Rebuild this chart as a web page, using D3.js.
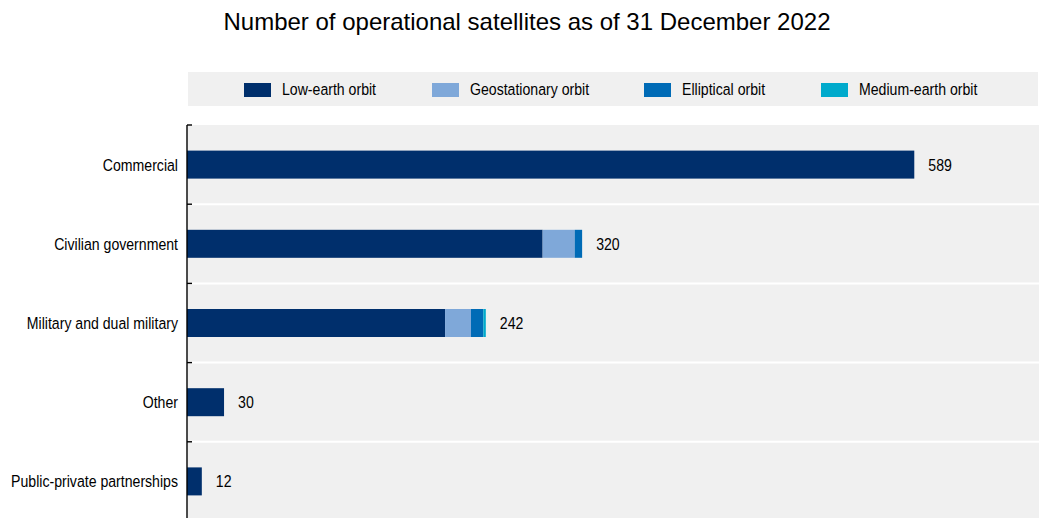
<!DOCTYPE html>
<html>
<head>
<meta charset="utf-8">
<script src="https://cdn.jsdelivr.net/npm/d3@7"></script>
<style>
  html, body { margin: 0; padding: 0; background: #fff; }
  svg { display: block; }
  text { font-family: "Liberation Sans", Arial, sans-serif; fill: #000; }
</style>
</head>
<body>
<svg id="chart" width="1039" height="518"></svg>
<script>
// Operational satellites by sector and orbit type, 31 December 2022
const categories = ["Commercial", "Civilian government", "Military and dual military", "Other", "Public-private partnerships"];
const seriesNames = ["Low-earth orbit", "Geostationary orbit", "Elliptical orbit", "Medium-earth orbit"];
const lowEarth      = [589, 288, 209, 30, 12];
const geostationary = [0, 26, 21, 0, 0];
const elliptical    = [0, 6, 10, 0, 0];
const mediumEarth   = [0, 0, 2, 0, 0];
const totals        = [589, 320, 242, 30, 12];
const xMax = 690;

const colors = ["#002f6c", "#7fa8d9", "#006bb6", "#00aacc"];
const title = "Number of operational satellites as of 31 December 2022";

const W = 1039, H = 518;
const plot = { left: 187, right: 1039, top: 125, bottom: 521 };
const condense = 0.83;   // narrow face look for body text
const bodySize = "17px";

const svg = d3.select("#chart");

// place a condensed text at (px, py)
function narrowText(parent, px, py, str, anchor) {
  return parent.append("text")
    .attr("transform", `translate(${px},${py}) scale(${condense},1)`)
    .attr("text-anchor", anchor || "start")
    .style("font-size", bodySize)
    .text(str);
}

const rows = categories.map((c, i) => ({
  category: c,
  "Low-earth orbit": lowEarth[i],
  "Geostationary orbit": geostationary[i],
  "Elliptical orbit": elliptical[i],
  "Medium-earth orbit": mediumEarth[i],
  total: totals[i]
}));

const x = d3.scaleLinear().domain([0, xMax]).range([plot.left, plot.right]);
const y = d3.scaleBand().domain(categories).range([plot.top, plot.bottom]).paddingInner(0).paddingOuter(0);
const barH = 28;

// Title
svg.append("text")
  .attr("x", 527)
  .attr("y", 30)
  .attr("text-anchor", "middle")
  .style("font-size", "24px")
  .text(title);

// Legend
const legend = svg.append("g");
legend.append("rect")
  .attr("x", 188).attr("y", 72).attr("width", 850).attr("height", 34)
  .attr("fill", "#f0f0f0");
const legendX = [244, 432, 644, 821];
seriesNames.forEach((name, i) => {
  legend.append("rect")
    .attr("x", legendX[i]).attr("y", 83).attr("width", 27).attr("height", 14)
    .attr("fill", colors[i]);
  narrowText(legend, legendX[i] + 38, 95, name);
});

// Plot background
svg.append("rect")
  .attr("x", plot.left).attr("y", plot.top)
  .attr("width", plot.right - plot.left).attr("height", plot.bottom - plot.top)
  .attr("fill", "#f0f0f0");

// Band separators
svg.append("g").selectAll("line")
  .data(categories.slice(1))
  .join("line")
  .attr("x1", plot.left).attr("x2", plot.right)
  .attr("y1", d => y(d)).attr("y2", d => y(d))
  .attr("stroke", "#fff").attr("stroke-width", 2);

// Stacked bars
const stack = d3.stack().keys(seriesNames)(rows);
svg.append("g").selectAll("g")
  .data(stack)
  .join("g")
  .attr("fill", (d, i) => colors[i])
  .selectAll("rect")
  .data(d => d)
  .join("rect")
  .attr("x", d => x(d[0]))
  .attr("width", d => x(d[1]) - x(d[0]))
  .attr("y", d => y(d.data.category) + y.bandwidth() / 2 - barH / 2)
  .attr("height", barH);

// Total labels
const totalsG = svg.append("g");
rows.forEach(d => {
  narrowText(totalsG, x(d.total) + 14, y(d.category) + y.bandwidth() / 2 + 6, String(d.total));
});

// Category axis with ticks on band boundaries
const axisG = svg.append("g");
axisG.append("line")
  .attr("x1", plot.left).attr("x2", plot.left)
  .attr("y1", plot.top).attr("y2", H + 2)
  .attr("stroke", "#000").attr("stroke-width", 1.4);
axisG.selectAll("line.tick")
  .data(categories)
  .join("line")
  .attr("class", "tick")
  .attr("x1", plot.left).attr("x2", plot.left + 5)
  .attr("y1", d => y(d)).attr("y2", d => y(d))
  .attr("stroke", "#000").attr("stroke-width", 1.4);
categories.forEach(c => {
  narrowText(axisG, plot.left - 9, y(c) + y.bandwidth() / 2 + 6, c, "end");
});
</script>
</body>
</html>
